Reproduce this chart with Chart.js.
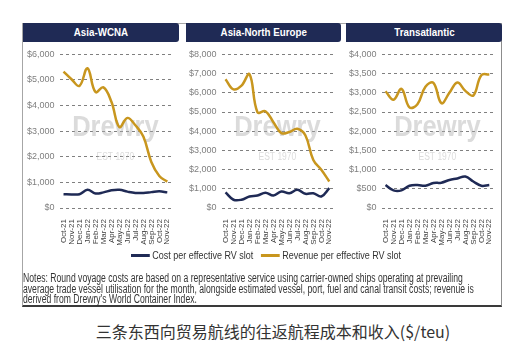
<!DOCTYPE html>
<html>
<head>
<meta charset="utf-8">
<script src="https://cdn.jsdelivr.net/npm/chart.js@4.4.0/dist/chart.umd.min.js"></script>
<style>
  body { margin: 0; background: #fff; width: 520px; height: 350px; position: relative; overflow: hidden;
         font-family: "Liberation Sans", Arial, sans-serif; }
  .frame { position: absolute; left: 22px; top: 23px; width: 478px; height: 281px;
           border: 1px solid #a6a6a6; border-right-color: #8c8c8c; border-bottom: 2px solid #3a3a3a; }
  .head { position: absolute; top: 23px; height: 19px; background: #1f2a55; color: #fff;
          font-weight: bold; font-size: 11.5px; line-height: 19px; text-align: center; border-radius: 0 3px 3px 0; }
  .head span { display: inline-block; transform: scaleX(0.85); }
  .panel { position: absolute; top: 44px; width: 158px; height: 206px; }
  .legend { position: absolute; top: 249px; left: 266px; white-space: nowrap; font-size: 11.5px; color: #333;
            transform-origin: 0 0; }
  .legend span.sw { display: inline-block; width: 24px; height: 3px; vertical-align: middle; margin: 0 3px 0 10px; }
  .notes { position: absolute; left: 23px; top: 273px; white-space: nowrap; font-size: 12px; line-height: 10.5px; color: #333;
           transform-origin: 0 0; }
  .caption { position: absolute; left: 0; width: 546px; top: 319px; text-align: center;
             font-family: "Noto Sans CJK SC", sans-serif; font-size: 16px; color: #333; }
</style>
</head>
<body>
<div class="frame"></div>
<div class="head" style="left:23px;width:156px"><span>Asia-WCNA</span></div>
<div class="head" style="left:186px;width:155px"><span>Asia-North Europe</span></div>
<div class="head" style="left:346px;width:156px"><span>Transatlantic</span></div>
<div class="panel" style="left:22px"><canvas id="c1"></canvas></div>
<div class="panel" style="left:184px"><canvas id="c2"></canvas></div>
<div class="panel" style="left:344px"><canvas id="c3"></canvas></div>
<div class="legend" id="legend"><span class="sw" style="background:#1f2a55;margin-left:0"></span>Cost per effective RV slot<span class="sw" style="background:#c8961e"></span>Revenue per effective RV slot</div>
<div class="notes" id="notes">Notes: Round voyage costs are based on a representative service using carrier-owned ships operating at prevailing<br>average trade vessel utilisation for the month, alongside estimated vessel, port, fuel and canal transit costs; revenue is<br>derived from Drewry's World Container Index.</div>
<div class="caption">三条东西向贸易航线的往返航程成本和收入($/teu)</div>
<script>
const months = ['Oct-21','Nov-21','Dec-21','Jan-22','Feb-22','Mar-22','Apr-22','May-22','Jun-22','Jul-22','Aug-22','Sep-22','Oct-22','Nov-22'];

const wcnaCost    = [540, 530, 540, 710, 570, 610, 690, 710, 640, 590, 590, 620, 650, 610];
const wcnaRevenue = [5330, 5030, 4770, 5460, 4530, 4710, 4150, 3160, 3520, 3230, 2790, 1800, 1250, 1030];

const neCost    = [810, 430, 430, 600, 650, 800, 650, 860, 770, 950, 740, 770, 600, 1030];
const neRevenue = [6710, 6180, 6370, 6970, 4990, 5040, 4470, 3900, 3960, 4130, 3790, 2500, 1990, 1380];

const taCost    = [600, 460, 460, 580, 600, 580, 650, 660, 730, 770, 820, 690, 580, 600];
const taRevenue = [3040, 2820, 3100, 2620, 2700, 3160, 3260, 2730, 3000, 3270, 3050, 2930, 3460, 3480];

const NAVY = '#1f2a55';
const GOLD = '#c8961e';
const FONT = '"Liberation Sans", Arial, sans-serif';

// squeeze the html text blocks to the condensed widths of the original
function fitWidth(id, w, centre) {
  const el = document.getElementById(id);
  const s = w / el.offsetWidth;
  el.style.transform = centre ? `translateX(${-w / 2}px) scaleX(${s})` : `scaleX(${s})`;
}
fitWidth('notes', 451);
fitWidth('legend', 270, true);

// faint "Drewry" watermark behind the lines
const watermark = {
  id: 'watermark',
  beforeDatasetsDraw(chart) {
    const { ctx, chartArea: a } = chart;
    const cx = (a.left + a.right) / 2, cy = (a.top + a.bottom) / 2;
    ctx.save();
    ctx.fillStyle = 'rgba(175,175,175,0.45)';
    ctx.textAlign = 'center';
    ctx.textBaseline = 'middle';
    ctx.font = 'bold 30px ' + FONT;
    ctx.translate(cx, cy - 3);
    ctx.scale(0.85, 1);
    ctx.fillText('Drewry', 0, 0);
    ctx.font = '10px ' + FONT;
    ctx.fillText('EST 1970', 0, 29);
    ctx.restore();
  }
};

function makeChart(id, cost, revenue, max, step) {
  new Chart(document.getElementById(id), {
    type: 'line',
    data: {
      labels: months,
      datasets: [
        { label: 'Revenue per effective RV slot', data: revenue, borderColor: GOLD, borderWidth: 2.5, pointRadius: 0, tension: 0.4, fill: false },
        { label: 'Cost per effective RV slot', data: cost, borderColor: NAVY, borderWidth: 2.5, pointRadius: 0, tension: 0.4, fill: false },
      ]
    },
    options: {
      responsive: true,
      maintainAspectRatio: false,
      animation: false,
      layout: { padding: { top: 4, right: 3, left: 0, bottom: 0 } },
      scales: {
        x: {
          offset: true,
          grid: { display: false },
          border: { display: false },
          afterFit: s => { s.height = 42; },
          ticks: { color: '#404040', font: { family: FONT, size: 8 }, maxRotation: 90, minRotation: 90, autoSkip: false, padding: 3 }
        },
        y: {
          min: 0, max,
          grid: { color: '#808080', drawTicks: false, lineWidth: 1 },
          border: { display: false, dash: [3, 3] },
          ticks: {
            stepSize: step, padding: 5, color: '#7f7f7f', font: { family: FONT, size: 9 },
            callback: v => '$' + v.toLocaleString('en-US')
          }
        }
      },
      plugins: { legend: { display: false }, tooltip: { enabled: false } }
    },
    plugins: [watermark]
  });
}

makeChart('c1', wcnaCost, wcnaRevenue, 6000, 1000);
makeChart('c2', neCost, neRevenue, 8000, 1000);
makeChart('c3', taCost, taRevenue, 4000, 500);
</script>
</body>
</html>
